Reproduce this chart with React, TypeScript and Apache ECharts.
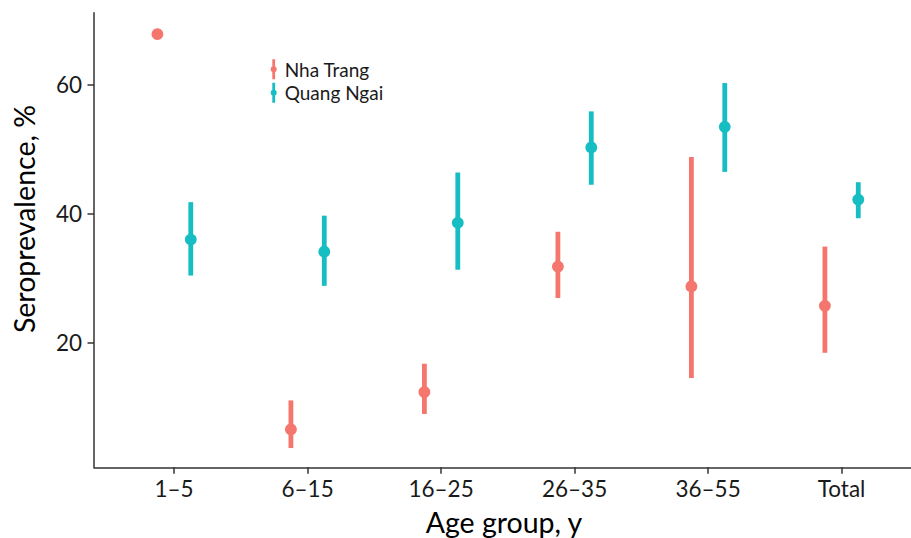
import React, { useEffect, useRef } from "react";
import * as echarts from "echarts";

const categories = ["1–5", "6–15", "16–25", "26–35", "36–55", "Total"];
const seriesNames = ["Nha Trang", "Quang Ngai"];
const nhaTrangEst = [67.9, 6.5, 12.3, 31.8, 28.7, 25.7];
const nhaTrangLow = [67.9, 3.6, 8.9, 26.9, 14.5, 18.4];
const nhaTrangHigh = [67.9, 11.0, 16.7, 37.2, 48.8, 34.9];
const quangNgaiEst = [36.0, 34.1, 38.6, 50.3, 53.5, 42.2];
const quangNgaiLow = [30.4, 28.8, 31.3, 44.5, 46.5, 39.3];
const quangNgaiHigh = [41.8, 39.7, 46.4, 55.9, 60.3, 44.9];
const yTicks = [20, 40, 60];

const COLORS = ["#F5766D", "#16BDC2"];
const FONT = "Lato";
const DODGE = 0.125;
const LEGEND_ICON =
  "path://M1.6,0 H4.4 V20 H1.6 Z M3,7 A3,3 0 1 1 3,13 A3,3 0 1 1 3,7 Z";

function buildData(est: number[], lo: number[], hi: number[], offset: number) {
  return categories.map((_, i) => [i + 1 + offset, est[i], lo[i], hi[i]]);
}

function makeSeries(name: string, data: number[][], color: string) {
  return {
    type: "custom",
    name,
    data,
    encode: { x: 0, y: [1, 2, 3] },
    renderItem: (_params: any, api: any) => {
      const x = api.value(0);
      const pm = api.coord([x, api.value(1)]);
      const pl = api.coord([x, api.value(2)]);
      const ph = api.coord([x, api.value(3)]);
      return {
        type: "group",
        children: [
          {
            type: "line",
            shape: { x1: pl[0], y1: pl[1], x2: ph[0], y2: ph[1] },
            style: { stroke: color, lineWidth: 4.8, lineCap: "butt" },
          },
          {
            type: "circle",
            shape: { cx: pm[0], cy: pm[1], r: 5.9 },
            style: { fill: color },
          },
        ],
      };
    },
  };
}

export default function App() {
  const ref = useRef<HTMLDivElement>(null);
  useEffect(() => {
    if (!ref.current) return;
    const chart = echarts.init(ref.current, null, { renderer: "svg" });
    const tickIdx = categories.map((_, i) => i + 1);
    chart.setOption({
      animation: false,
      color: COLORS,
      grid: { left: 94, top: 12.7, width: 817, bottom: 70.7, containLabel: false },
      legend: {
        orient: "vertical",
        left: 270.7,
        top: 59.3,
        padding: 0,
        itemGap: 3.4,
        itemWidth: 6,
        itemHeight: 20,
        textStyle: { fontFamily: FONT, fontSize: 19, color: "#1a1a1a", padding: [0, 0, 0, 3] },
        data: seriesNames.map((n, i) => ({
          name: n,
          icon: LEGEND_ICON,
          itemStyle: { color: COLORS[i] },
        })),
        selectedMode: false,
      },
      xAxis: {
        type: "value",
        min: 0.4,
        max: 6.52,
        splitLine: { show: false },
        axisLine: { show: true, onZero: false, lineStyle: { color: "#333", width: 1.5 } },
        axisTick: { show: true, length: 6.5, lineStyle: { color: "#333", width: 1.5 }, customValues: tickIdx },
        axisLabel: {
          customValues: tickIdx,
          formatter: (v: number) => categories[Math.round(v) - 1] ?? "",
          fontFamily: FONT,
          fontSize: 22.5,
          color: "#1a1a1a",
          margin: 10,
        },
      },
      yAxis: {
        type: "value",
        min: 0.61,
        max: 71.23,
        splitLine: { show: false },
        axisLine: { show: true, onZero: false, lineStyle: { color: "#333", width: 1.5 } },
        axisTick: { show: true, length: 6.5, lineStyle: { color: "#333", width: 1.5 }, customValues: yTicks },
        axisLabel: {
          customValues: yTicks,
          fontFamily: FONT,
          fontSize: 22.5,
          color: "#1a1a1a",
          margin: 12,
        },
      },
      graphic: [
        {
          type: "text",
          x: 504,
          y: 522,
          style: {
            text: "Age group, y",
            fontFamily: FONT,
            fontSize: 28.5,
            fill: "#000",
            align: "center",
            verticalAlign: "middle",
          },
        },
        {
          type: "text",
          x: 24,
          y: 219,
          rotation: Math.PI / 2,
          style: {
            text: "Seroprevalence, %",
            fontFamily: FONT,
            fontSize: 28.5,
            fill: "#000",
            align: "center",
            verticalAlign: "middle",
          },
        },
      ],
      series: [
        makeSeries(seriesNames[0], buildData(nhaTrangEst, nhaTrangLow, nhaTrangHigh, -DODGE), COLORS[0]),
        makeSeries(seriesNames[1], buildData(quangNgaiEst, quangNgaiLow, quangNgaiHigh, DODGE), COLORS[1]),
      ],
    });
    return () => chart.dispose();
  }, []);
  return (
    <div
      ref={ref}
      style={{ position: "absolute", left: 0, top: 0, width: 911, height: 538 }}
    />
  );
}
